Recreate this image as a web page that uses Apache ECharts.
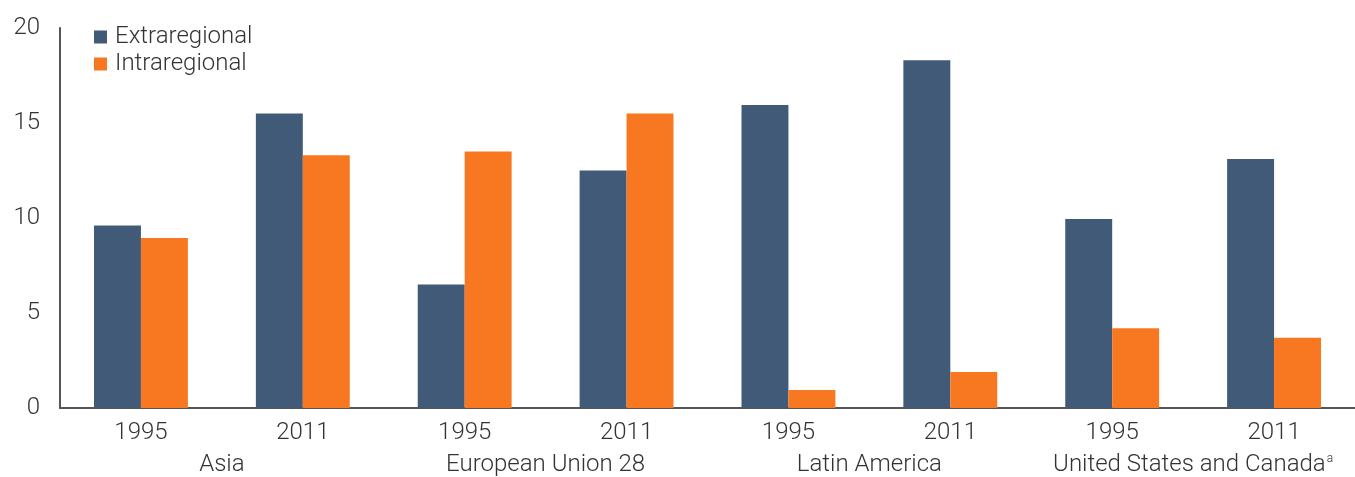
<!DOCTYPE html>
<html><head><meta charset="utf-8">
<script src="https://cdn.jsdelivr.net/npm/echarts@6/dist/echarts.min.js"></script>
<style>html,body{margin:0;padding:0;background:#fff}#c{width:1355px;height:477px}</style>
</head><body><div id="c"></div>
<script>
const years = ['1995','2011','1995','2011','1995','2011','1995','2011'];
const regions = ['Asia','European Union 28','Latin America','United States and Canada'];
const extraregional = [9.6, 15.5, 6.5, 12.5, 15.95, 18.3, 9.95, 13.1];
const intraregional = [8.95, 13.3, 13.5, 15.5, 0.95, 1.9, 4.2, 3.7];
const yTicks = [0, 5, 10, 15, 20];

const font = 'Roboto, "Liberation Sans", sans-serif';
const fs = 24;
const chart = echarts.init(document.getElementById('c'), null, {renderer:'canvas'});
chart.setOption({
  animation:false,
  textStyle:{fontFamily:font},
  legend:{
    orient:'vertical', left:89, top:20, itemWidth:13, itemHeight:13, itemGap:3, icon:'rect',
    textStyle:{fontSize:fs, fontWeight:300, lineHeight:24, color:'#333', fontFamily:font, padding:[0,0,0,3]},
    data:['Extraregional','Intraregional']
  },
  grid:{left:60, right:0, top:28, bottom:69, containLabel:false, outerBoundsMode:'none'},
  xAxis:[{
    type:'category', data:years, position:'bottom',
    axisLine:{lineStyle:{color:'#555', width:2}},
    axisTick:{show:false},
    axisLabel:{fontSize:fs, fontWeight:300, color:'#333', margin:13, fontFamily:font, interval:0}
  },{
    type:'category', data:regions, position:'bottom',
    axisLine:{show:false}, axisTick:{show:false},
    axisLabel:{fontSize:fs, fontWeight:300, color:'#333', margin:45, fontFamily:font, interval:0,
      formatter:function(v){ return v==='United States and Canada' ? v+'{sup|a}' : v; },
      rich:{sup:{fontSize:12, fontWeight:300, verticalAlign:'top', padding:[0,0,12,1], color:'#333', fontFamily:font}}
    }
  }],
  yAxis:{
    type:'value', min:0, max:20, interval:5,
    axisLine:{show:true, lineStyle:{color:'#555', width:2}},
    axisTick:{show:false}, splitLine:{show:false},
    axisLabel:{fontSize:fs, fontWeight:300, color:'#333', margin:20, fontFamily:font,
      formatter:function(v){ return yTicks.indexOf(v)>=0 ? String(v) : ''; }}
  },
  series:[
    {name:'Extraregional', type:'bar', data:extraregional, barGap:'0%', barCategoryGap:'42%',
     itemStyle:{color:'#405A78'}},
    {name:'Intraregional', type:'bar', data:intraregional, barGap:'0%', barCategoryGap:'42%',
     itemStyle:{color:'#F77820'}}
  ]
});
</script></body></html>
